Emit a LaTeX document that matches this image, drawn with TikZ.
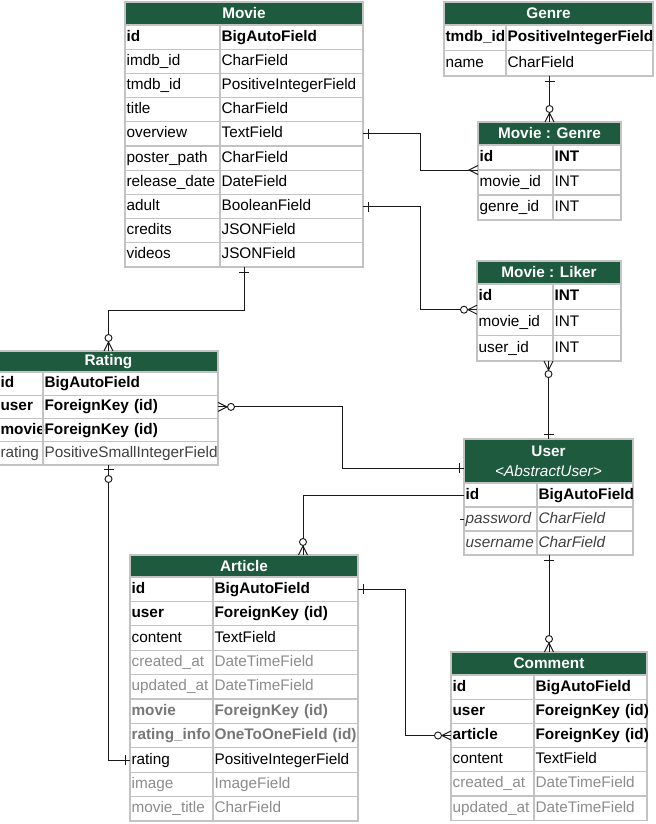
\documentclass[tikz,border=0pt]{standalone}
\usepackage{fontspec}
\setmainfont{Liberation Sans}
\newcommand\fs{\fontsize{11.5}{14}\selectfont}
\definecolor{hdrgreen}{RGB}{30,90,62}
\definecolor{cellline}{RGB}{195,195,195}
\definecolor{greytext}{RGB}{140,140,140}
\definecolor{midtext}{RGB}{64,64,64}
\tikzset{
 hdr/.style={draw=cellline, line width=1pt, fill=hdrgreen, text=white, font=\fs\bfseries, inner sep=0pt, outer sep=0pt, align=center},
 cell/.style={draw=cellline, line width=1pt, anchor=north west, inner xsep=1.2pt, inner ysep=0pt, outer sep=0pt, align=left, font=\fs, text=black, text height=8.5pt, text depth=2.5pt},
 rs/.style={#1},
 fn/.style={},
 fb/.style={font=\fs\bfseries},
 fg/.style={text=greytext},
 fgb/.style={text=greytext!85!black, font=\fs\bfseries},
 fd/.style={text=midtext},
 fi/.style={text=midtext, font=\fs\itshape},
 conn/.style={draw=black!90, line width=0.7pt},
 one/.pic={\draw[conn] (5,-5) -- (5,5);},
 many/.pic={\draw[conn] (0,-4.5) -- (9,0) -- (0,4.5);},
 zmany/.pic={\draw[conn] (0,-4.5) -- (9,0) -- (0,4.5); \draw[conn, fill=white] (13,0) circle (3.5);},
 zone/.pic={\draw[conn] (4,-5) -- (4,5); \draw[conn, fill=white] (14,0) circle (3.5);},
}
\newcommand\ertable[8]{%
 \pgfmathsetmacro\erHW{((#4)-(#2))*0.75}%
 \pgfmathsetmacro\erHH{((#6)-(#5))*0.75}%
 \node[hdr, minimum width=\erHW pt, minimum height=\erHH pt] (#1) at ({((#2)+(#4))/2},{((#5)+(#6))/2}) {#8};
 \def\erName{#1}\def\erL{#2}\def\erD{#3}\def\erR{#4}\def\erT{#6}\def\erH{#7}}
\newcommand\errows[1]{%
 \pgfmathsetmacro\erWa{((\erD)-(\erL))*0.75-2.4}%
 \pgfmathsetmacro\erWb{((\erR)-(\erD))*0.75-2.4}%
 \pgfmathsetmacro\erHt{(\erH)*0.75}%
 \foreach \a/\b/\s [count=\i] in {#1} {%
   \node[cell, rs/.expand once=\s, text width=\erWa pt, minimum height=\erHt pt] (\erName-\i-a) at (\erL,{\erT+(\i-1)*\erH}) {\rlap{\a}};
   \node[cell, rs/.expand once=\s, text width=\erWb pt, minimum height=\erHt pt] (\erName-\i-b) at (\erD,{\erT+(\i-1)*\erH}) {\rlap{\b}};
 }}
\begin{document}
\begin{tikzpicture}[x=0.75pt,y=-0.75pt]
\useasboundingbox (0,0) rectangle (656,824);

\ertable{movie}{125}{220}{363}{2}{25}{24.2}{Movie}
\errows{id/BigAutoField/fb, imdb\_id/CharField/fn, tmdb\_id/PositiveIntegerField/fn, title/CharField/fn, overview/TextField/fn, poster\_path/CharField/fn, release\_date/DateField/fn, adult/BooleanField/fn, credits/JSONField/fn, videos/JSONField/fn}

\ertable{genre}{444}{506}{653}{2}{25}{25.5}{Genre}
\errows{tmdb\_id/PositiveIntegerField/fb, name/CharField/fn}

\ertable{mg}{478}{553}{621}{122}{145}{25}{Movie : Genre}
\errows{id/INT/fb, movie\_id/INT/fn, genre\_id/INT/fn}

\ertable{ml}{477}{553}{621}{261}{284}{25.7}{Movie : Liker}
\errows{id/INT/fb, movie\_id/INT/fn, user\_id/INT/fn}

\ertable{rt}{-1}{43}{218}{351}{372}{23.25}{Rating}
\errows{id/BigAutoField/fb, user/ForeignKey (id)/fb, movie/ForeignKey (id)/fb, rating/PositiveSmallIntegerField/fd}

\ertable{us}{464}{537}{633}{439}{483}{24}{User\\[1pt] \mdseries\itshape <AbstractUser>}
\errows{id/BigAutoField/fb, password/CharField/fi, username/CharField/fi}

\ertable{ar}{130}{213}{358}{555}{577}{24.4}{Article}
\errows{id/BigAutoField/fb, user/ForeignKey (id)/fb, content/TextField/fn, created\_at/DateTimeField/fg, updated\_at/DateTimeField/fg, movie/ForeignKey (id)/fgb, rating\_info/OneToOneField (id)/fgb, rating/PositiveIntegerField/fn, image/ImageField/fg, movie\_title/CharField/fg}

\ertable{cm}{451}{534}{647}{652}{675}{24.2}{Comment}
\errows{id/BigAutoField/fb, user/ForeignKey (id)/fb, article/ForeignKey (id)/fb, content/TextField/fn, created\_at/DateTimeField/fg, updated\_at/DateTimeField/fg}

% connectors
\draw[conn] (movie-5-b.east) -- ++(57,0) |- (mg-1-a.south west);
\draw[conn] (mg.north |- genre-2-b.south) -- (mg.north);
\draw[conn] (movie-8-b.east) -- ++(57,0) |- (ml-1-a.south west);
\draw[conn] (us.north |- ml-3-b.south) -- (us.north);
\draw[conn] (movie.south |- movie-10-a.south) -- ++(0,43) -| (rt.north);
\draw[conn] (rt-2-b.east) -- ++(124,0) |- ([yshift=-5.25pt]us.west);
\draw[conn] (us-1-a.west) -| ([xshift=44.25pt]ar.north);
\draw[conn] ([xshift=-3pt]us-2-a.west) -- (us-2-a.west);
\draw[conn] (cm.north |- us-3-b.south) -- (cm.north);
\draw[conn] (rt.south |- rt-4-a.south) |- (ar-8-a.west);
\draw[conn] (ar-1-b.east) -- ++(47,0) |- (cm-3-a.west);

% markers
\pic at (movie-5-b.east) {one};
\pic[rotate=180] at (mg-1-a.south west) {many};
\pic[rotate=-90] at (mg.north |- genre-2-b.south) {one};
\pic[rotate=90] at (mg.north) {zmany};
\pic at (movie-8-b.east) {one};
\pic[rotate=180] at (ml-1-a.south west) {zmany};
\pic[rotate=-90] at (us.north |- ml-3-b.south) {zmany};
\pic[rotate=90] at (us.north) {one};
\pic[rotate=-90] at (movie.south |- movie-10-a.south) {one};
\pic[rotate=90] at (rt.north) {zmany};
\pic at (rt-2-b.east) {zmany};
\pic[rotate=180] at ([yshift=-5.25pt]us.west) {one};
\pic[rotate=90] at ([xshift=44.25pt]ar.north) {zmany};
\pic[rotate=-90] at (cm.north |- us-3-b.south) {one};
\pic[rotate=90] at (cm.north) {zmany};
\pic[rotate=-90] at (rt.south |- rt-4-a.south) {zone};
\pic[rotate=180] at (ar-8-a.west) {one};
\pic at (ar-1-b.east) {one};
\pic[rotate=180] at (cm-3-a.west) {zmany};
\end{tikzpicture}
\end{document}
